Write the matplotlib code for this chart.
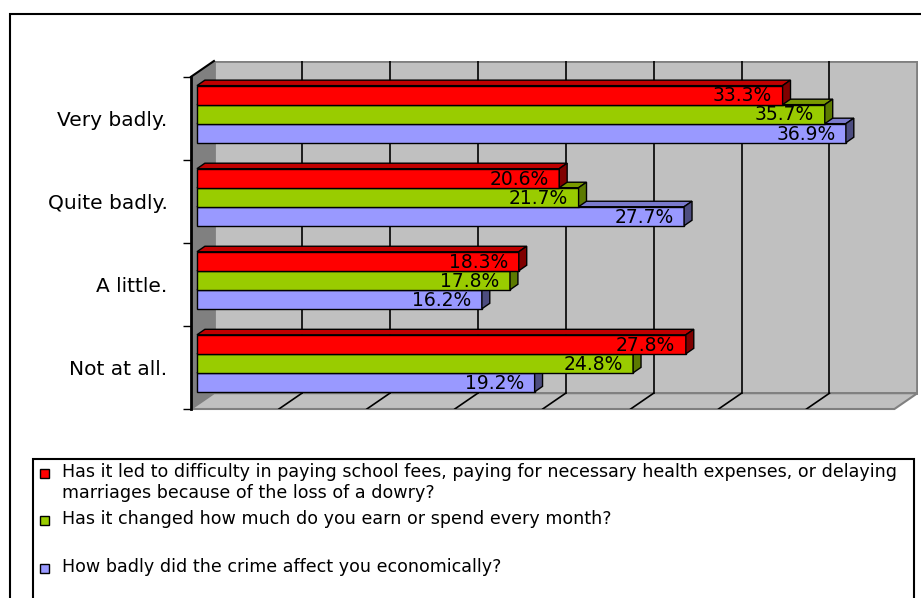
import numpy as np
import matplotlib.pyplot as plt
from matplotlib.patches import Polygon, Rectangle

categories = ["Very badly.", "Quite badly.", "A little.", "Not at all."]
school_fees = [33.3, 20.6, 18.3, 27.8]
earn_spend = [35.7, 21.7, 17.8, 24.8]
affect_econ = [36.9, 27.7, 16.2, 19.2]
legend_labels = [
    "Has it led to difficulty in paying school fees, paying for necessary health expenses, or delaying\n"
    "marriages because of the loss of a dowry?",
    "Has it changed how much do you earn or spend every month?",
    "How badly did the crime affect you economically?",
]
grid_ticks = np.arange(0, 45, 5)

plt.rcParams['font.family'] = ['DejaVu Sans']

W, H = 921, 598
fig = plt.figure(figsize=(W / 100, H / 100), dpi=100)
fig.patch.set_facecolor('white')

# outer chart border (runs off the right/bottom edge like the original)
fig.add_artist(Rectangle((10 / W, -0.1), 1.2, (H - 14) / H + 0.1, transform=fig.transFigure,
                         fill=False, ec='black', lw=1.5))

ax = fig.add_axes([191 / W, (H - 409) / H, 727 / W, 348 / H])
ax.set_xlim(-0.34, 41.0)
ax.set_ylim(0, 4.19)

# depth of the 3d box (in data units) and of each bar
wall_dx, wall_dy = 1.305, 0.19
front_x = -0.34
bar_dx, bar_dy = 0.45, 0.066
bar_h = 0.229

# walls and floor
ax.add_patch(Rectangle((front_x + wall_dx, wall_dy), 40, 4.0, fc='#C0C0C0', ec='#808080', lw=2, zorder=0))
ax.add_patch(Polygon([(front_x, 0), (front_x + wall_dx, wall_dy), (front_x + wall_dx, 4 + wall_dy), (front_x, 4)],
                     closed=True, fc='#808080', ec='none', zorder=1))
ax.plot([front_x, front_x + wall_dx], [4, 4 + wall_dy], color='black', lw=1.5, zorder=2, clip_on=False)
ax.add_patch(Polygon([(front_x, 0), (front_x + 40, 0), (front_x + wall_dx + 40, wall_dy), (front_x + wall_dx, wall_dy)],
                     closed=True, fc='#C0C0C0', ec='#808080', lw=1.5, zorder=1, clip_on=False))
for v in grid_ticks[1:-1]:
    ax.plot([v + front_x + wall_dx] * 2, [wall_dy, 4 + wall_dy], color='black', lw=1.2, zorder=1)
    ax.plot([v + front_x, v + front_x + wall_dx], [0, wall_dy], color='black', lw=1.2, zorder=1.5)

centers = np.array([3.5, 2.5, 1.5, 0.5]) + 0.05

series = [
    (affect_econ, -bar_h, '#9999FF', '#7A7ACC', '#4D4D80'),
    (earn_spend, 0.0, '#99CC00', '#7A9900', '#5C7A00'),
    (school_fees, bar_h, '#FF0000', '#C00000', '#800000'),
]
for vals, off, c_front, c_top, c_side in series:
    ys = centers + off
    ax.barh(ys, vals, height=bar_h, left=0, color=c_front, edgecolor='black', lw=1, zorder=3)
    for w, y in zip(vals, ys):
        yb, yt = y - bar_h / 2, y + bar_h / 2
        ax.add_patch(Polygon([(0, yt), (w, yt), (w + bar_dx, yt + bar_dy), (bar_dx, yt + bar_dy)],
                             closed=True, fc=c_top, ec='black', lw=1, zorder=3))
        ax.add_patch(Polygon([(w, yb), (w + bar_dx, yb + bar_dy), (w + bar_dx, yt + bar_dy), (w, yt)],
                             closed=True, fc=c_side, ec='black', lw=1, zorder=3))
        ax.text(w - 0.6, y - 0.01, f"{w:.1f}%", ha='right', va='center', fontsize=13.5, zorder=5)

# axis
for s in ['top', 'right', 'bottom']:
    ax.spines[s].set_visible(False)
ax.spines['left'].set_bounds(0, 4)
ax.spines['left'].set_linewidth(2)
ax.spines['left'].set_zorder(4)
ax.set_xticks([])
ax.set_yticks(range(5))
ax.set_yticklabels([])
ax.tick_params(axis='y', which='major', length=6, width=1, direction='out')
ax.set_yticks([3.5, 2.5, 1.5, 0.5], minor=True)
ax.set_yticklabels(categories, minor=True, fontsize=14.5)
ax.tick_params(axis='y', which='minor', length=0, pad=17)
ax.patch.set_visible(False)

# legend box
fig.add_artist(Rectangle((33 / W, -0.05), (914 - 33) / W, (H - 459) / H + 0.05, transform=fig.transFigure,
                         fill=False, ec='black', lw=1.5))
leg_y = [473, 520, 568]
leg_colors = ['#FF0000', '#99CC00', '#9999FF']
for lab, yy, col in zip(legend_labels, leg_y, leg_colors):
    fig.add_artist(Rectangle((40 / W, (H - yy - 4.5) / H), 9 / W, 9 / H, transform=fig.transFigure,
                             fc=col, ec='black', lw=1))
    fig.text(62 / W, (H - yy + 10) / H, lab, ha='left', va='top', fontsize=12.6, linespacing=1.2)

fig.savefig('out.png', dpi=100)
